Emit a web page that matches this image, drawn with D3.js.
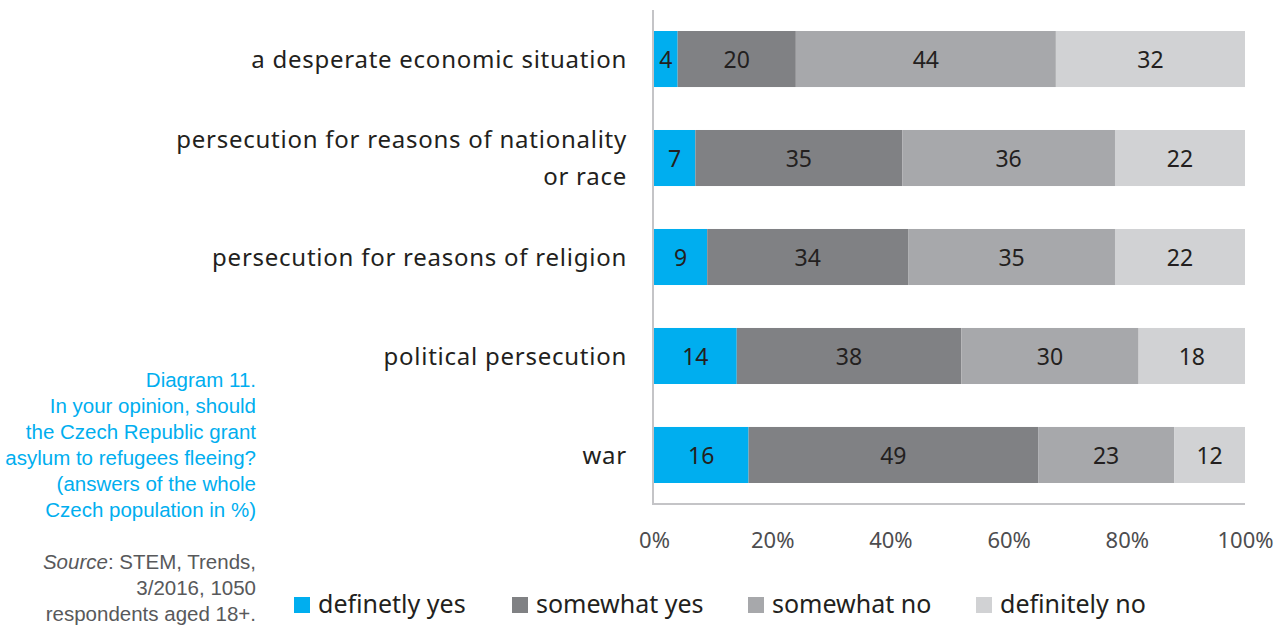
<!DOCTYPE html>
<html><head><meta charset="utf-8">
<script src="https://cdn.jsdelivr.net/npm/d3@7"></script>
<style>body{margin:0;background:#fff}svg{display:block}</style>
</head><body>
<script>
const categories = [
  ["a desperate economic situation"],
  ["persecution for reasons of nationality", "or race"],
  ["persecution for reasons of religion"],
  ["political persecution"],
  ["war"]
];
const seriesNames = ["definetly yes", "somewhat yes", "somewhat no", "definitely no"];
const definetlyYes = [4, 7, 9, 14, 16];
const somewhatYes = [20, 35, 34, 38, 49];
const somewhatNo = [44, 36, 35, 30, 23];
const definitelyNo = [32, 22, 22, 18, 12];
const tickValues = [0, 20, 40, 60, 80, 100];
const captionLines = ["Diagram 11.", "In your opinion, should", "the Czech Republic grant", "asylum to refugees fleeing?", "(answers of the whole", "Czech population in %)"];

const colors = ["#00aeef", "#808184", "#a7a8ab", "#d1d2d4"];
const W = 1282, H = 626;
const svg = d3.select("body").append("svg").attr("width", W).attr("height", H);
const font = "'Noto Sans', 'Open Sans', sans-serif";

const x = d3.scaleLinear().domain([0, 100]).range([654, 1245]);
const y = d3.scaleBand().domain(d3.range(categories.length)).range([31, 483]).paddingInner(0.434).paddingOuter(0);

const series = [definetlyYes, somewhatYes, somewhatNo, definitelyNo];
const rows = categories.map((c, i) => {
  const o = {i};
  seriesNames.forEach((s, k) => o[s] = series[k][i]);
  return o;
});
const stacked = d3.stack().keys(seriesNames)(rows);

const g = svg.append("g");
stacked.forEach((layer, k) => {
  g.selectAll(null).data(layer).enter().append("rect")
    .attr("x", d => x(d[0])).attr("width", d => x(d[1]) - x(d[0]))
    .attr("y", (d, i) => y(i)).attr("height", y.bandwidth())
    .attr("fill", colors[k]);
  g.selectAll(null).data(layer).enter().append("text")
    .attr("x", d => (x(d[0]) + x(d[1])) / 2)
    .attr("y", (d, i) => y(i) + y.bandwidth() / 2)
    .attr("dy", "0.38em").attr("text-anchor", "middle")
    .attr("font-family", font).attr("font-size", 23).attr("fill", "#231f20")
    .text(d => d[1] - d[0]);
});

// axes lines
svg.append("line").attr("x1", 653).attr("x2", 653).attr("y1", 10).attr("y2", 505)
  .attr("stroke", "#c4c4c7").attr("stroke-width", 2);
svg.append("line").attr("x1", 652).attr("x2", 1245).attr("y1", 504).attr("y2", 504)
  .attr("stroke", "#c4c4c7").attr("stroke-width", 2);

const xAxis = d3.axisBottom(x).tickValues(tickValues).tickFormat(d => d + "%").tickSize(0).tickPadding(0);
const ax = svg.append("g").attr("transform", "translate(0,530)").call(xAxis);
ax.select(".domain").remove();
ax.selectAll("text").attr("font-family", font).attr("font-size", 22).attr("fill", "#4d4d4f").attr("dy", "0.8em");

// category labels
categories.forEach((lines, i) => {
  const cy = y(i) + y.bandwidth() / 2;
  const n = lines.length;
  lines.forEach((t, j) => {
    svg.append("text").attr("x", 627).attr("y", cy + (j - (n - 1) / 2) * 37)
      .attr("dy", "0.36em").attr("text-anchor", "end")
      .attr("font-family", font).attr("font-size", 24).attr("letter-spacing", "0.75px").attr("fill", "#231f20")
      .text(t);
  });
});

// legend
const legX = [294, 512, 748, 976];
seriesNames.forEach((s, k) => {
  svg.append("rect").attr("x", legX[k]).attr("y", 597).attr("width", 16).attr("height", 16).attr("fill", colors[k]);
  svg.append("text").attr("x", legX[k] + 24).attr("y", 613)
    .attr("font-family", font).attr("font-size", 25).attr("fill", "#231f20").text(s);
});

// caption
const capFont = "'Liberation Sans', Arial, sans-serif";
captionLines.forEach((t, j) => {
  svg.append("text").attr("x", 256).attr("y", 387 + j * 26).attr("text-anchor", "end")
    .attr("font-family", capFont).attr("font-size", 20.5).attr("fill", "#00aeef").text(t);
});
const src = svg.append("text").attr("x", 256).attr("y", 569).attr("text-anchor", "end")
  .attr("font-family", capFont).attr("font-size", 20.5).attr("fill", "#58595b");
src.append("tspan").attr("font-style", "italic").text("Source");
src.append("tspan").text(": STEM, Trends,");
["3/2016, 1050", "respondents aged 18+."].forEach((t, j) => {
  svg.append("text").attr("x", 256).attr("y", 595 + j * 26).attr("text-anchor", "end")
    .attr("font-family", capFont).attr("font-size", 20.5).attr("fill", "#58595b").text(t);
});
</script>
</body></html>
